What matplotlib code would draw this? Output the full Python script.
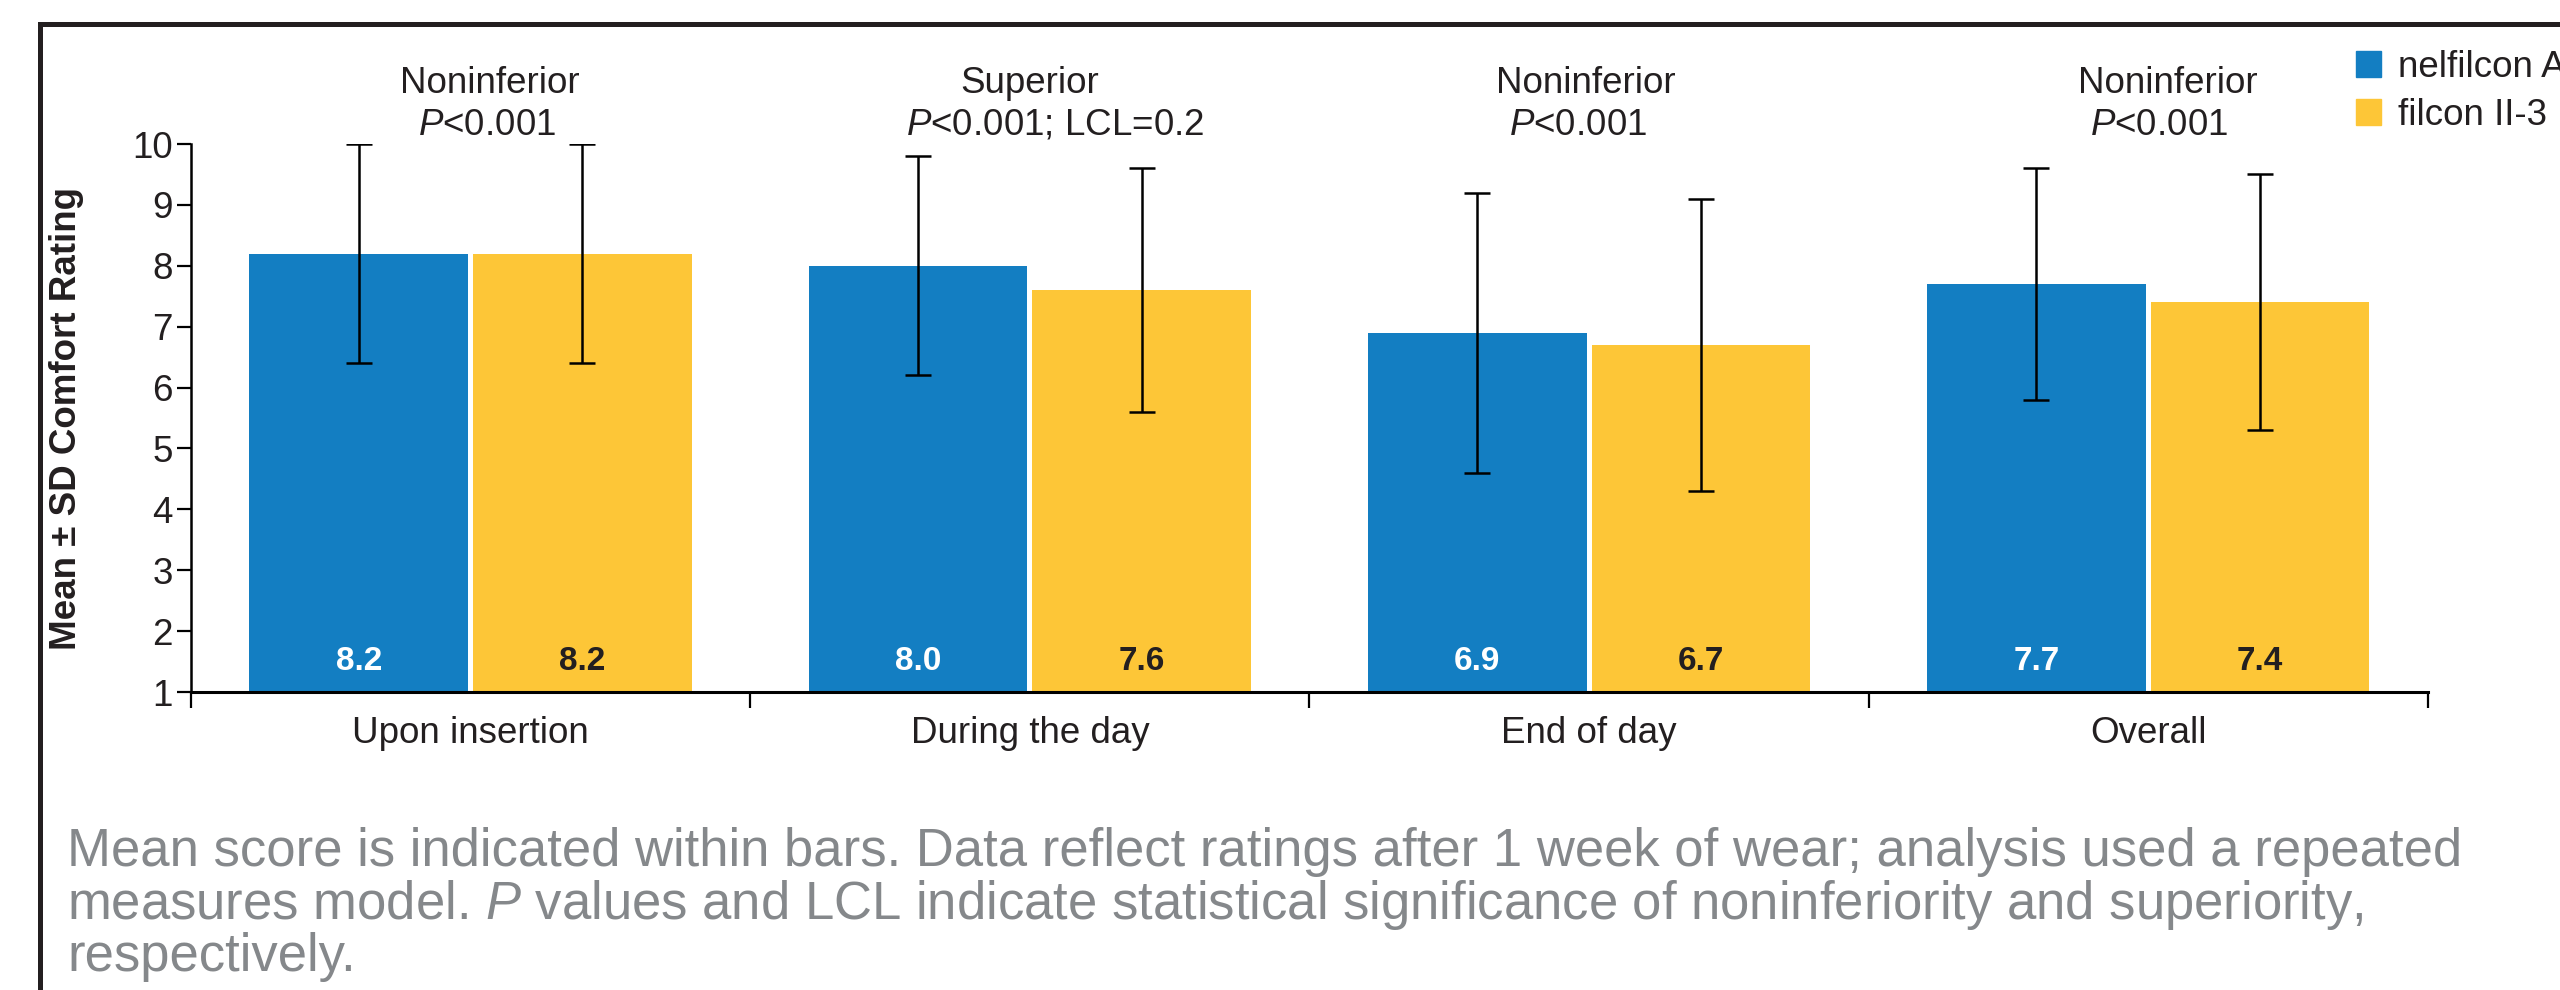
import numpy as np
import matplotlib.pyplot as plt
from matplotlib.lines import Line2D
from matplotlib.patches import Patch

plt.rcParams['font.family'] = ['Liberation Sans', 'DejaVu Sans']
plt.rcParams['mathtext.fontset'] = 'custom'
plt.rcParams['mathtext.rm'] = 'Liberation Sans'
plt.rcParams['mathtext.it'] = 'Liberation Sans:italic'

# data
categories = ['Upon insertion', 'During the day', 'End of day', 'Overall']
series = ['nelfilcon A', 'filcon II-3']
mean_nelfilcon = [8.2, 8.0, 6.9, 7.7]
mean_filcon = [8.2, 7.6, 6.7, 7.4]
sd_nelfilcon = [1.8, 1.8, 2.3, 1.9]
sd_filcon = [1.8, 2.0, 2.4, 2.1]
result_labels = ['Noninferior', 'Superior', 'Noninferior', 'Noninferior']
stat_labels = ['$P$<0.001', '$P$<0.001; LCL=0.2', '$P$<0.001', '$P$<0.001']
caption_lines = [
    'Mean score is indicated within bars. Data reflect ratings after 1 week of wear; analysis used a repeated',
    'measures model. $P$ values and LCL indicate statistical significance of noninferiority and superiority,',
    'respectively.',
]

blue = '#137ec2'
yellow = '#fdc637'
dark = '#231f20'

fig = plt.figure(figsize=(25.6, 9.9), dpi=100)
ax = fig.add_axes([0.0746, 0.301, 0.8738, 0.5535])

x = np.arange(len(categories))
w = 0.391
ax.bar(x - 0.2, mean_nelfilcon, w, bottom=0, color=blue, linewidth=0, zorder=2)
ax.bar(x + 0.2, mean_filcon, w, bottom=0, color=yellow, linewidth=0, zorder=2)
ax.errorbar(x - 0.2, mean_nelfilcon, yerr=sd_nelfilcon, fmt='none', ecolor='black',
            elinewidth=1.8, capsize=9.7, capthick=1.8, zorder=3)
ax.errorbar(x + 0.2, mean_filcon, yerr=sd_filcon, fmt='none', ecolor='black',
            elinewidth=1.8, capsize=9.7, capthick=1.8, zorder=3)

# mean values inside bars
for i in range(len(categories)):
    ax.text(x[i] - 0.2, 1.5, '%.1f' % mean_nelfilcon[i], ha='center', va='center',
            fontsize=24, fontweight='bold', color='white', zorder=4)
    ax.text(x[i] + 0.2, 1.5, '%.1f' % mean_filcon[i], ha='center', va='center',
            fontsize=24, fontweight='bold', color=dark, zorder=4)

# significance notes above groups
top_shift = [0.035, 0.0, -0.005, 0.035]
low_shift = [0.03, 0.045, -0.02, 0.02]
for i in range(len(categories)):
    ax.text(x[i] + top_shift[i], 11.0, result_labels[i], ha='center', va='center',
            fontsize=26.5, color=dark, clip_on=False)
    ax.text(x[i] + low_shift[i], 10.31, stat_labels[i], ha='center', va='center',
            fontsize=26.5, color=dark, clip_on=False)

ax.set_xlim(-0.5, len(categories) - 0.5)
ax.set_ylim(1, 10)
ax.set_yticks(range(1, 11))
ax.set_xticks(x)
ax.set_xticklabels(categories)
ax.set_xticks(np.arange(-0.5, len(categories)), minor=True)
ax.tick_params(axis='x', which='major', length=0, pad=17.5, labelsize=26.5, labelcolor=dark)
ax.tick_params(axis='x', which='minor', length=11.5, width=1.6, direction='out')
ax.tick_params(axis='y', length=10, width=1.6, pad=3, labelsize=26.5, labelcolor=dark)
for s in ['top', 'right']:
    ax.spines[s].set_visible(False)
ax.spines['left'].set_linewidth(1.8)
ax.spines['bottom'].set_linewidth(2.2)
ax.set_ylabel('Mean ± SD Comfort Rating', fontsize=26.5, fontweight='bold', color=dark, labelpad=35)

# legend at upper right, partly cut by the edge
handles = [Patch(color=blue), Patch(color=yellow)]
fig.legend(handles, series, loc='upper left', bbox_to_anchor=(2356 / 2560, 1 - 50 / 990),
           frameon=False, fontsize=26.5, handlelength=0.68, handleheight=0.68,
           handletextpad=0.45, labelspacing=0.35, borderpad=0, borderaxespad=0,
           labelcolor=dark)

# caption
for k, line in enumerate(caption_lines):
    fig.text(67 / 2560, 1 - (852 + 52.5 * k) / 990, line, ha='left', va='center',
             fontsize=37.9, color='#85888b')

# panel frame
fig.add_artist(Line2D([40 / 2560, 1], [1 - 24 / 990, 1 - 24 / 990], color=dark, lw=3.6))
fig.add_artist(Line2D([40 / 2560, 40 / 2560], [0, 1 - 24 / 990], color=dark, lw=3.6))

fig.savefig('out.png', dpi=100)
